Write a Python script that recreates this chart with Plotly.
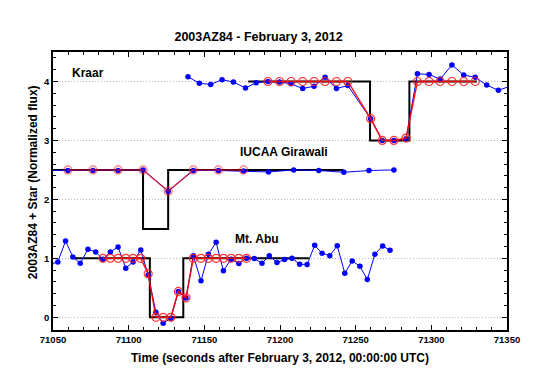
import plotly.graph_objects as go

# Kraar
kraar_t = [71139.2, 71146.7, 71154.2, 71161.7, 71169.2, 71177.2, 71184.3, 71192.0,
           71199.7, 71207.3, 71215.0, 71222.5, 71229.8, 71237.3, 71244.8, 71259.9,
           71267.6, 71275.3, 71283.3, 71290.8, 71298.5, 71305.8, 71313.6, 71321.4,
           71329.0, 71336.6, 71344.3, 71352.0]
kraar_flux = [4.08, 3.97, 3.95, 4.03, 3.99, 3.89, 3.98, 4.00,
              3.99, 3.96, 3.88, 3.92, 4.07, 3.88, 3.93, 3.37,
              3.00, 3.00, 3.03, 4.13, 4.12, 4.04, 4.28, 4.11,
              4.07, 3.94, 3.85, 3.92]
kraar_model_t = [71192.0, 71199.7, 71207.3, 71215.0, 71222.5, 71229.8, 71237.3, 71244.8,
                 71259.9, 71267.6, 71275.3, 71283.3, 71290.8, 71298.5, 71305.8, 71313.6,
                 71321.4, 71329.0]
kraar_model = [4.0, 4.0, 4.0, 4.0, 4.0, 4.0, 4.0, 4.0,
               3.37, 3.0, 3.0, 3.04, 4.0, 4.0, 4.0, 4.0,
               4.0, 4.0]
kraar_step_t = [71179.0, 71259.5, 71259.5, 71285.5, 71285.5, 71330.0]
kraar_step = [4, 4, 3, 3, 4, 4]

# IUCAA Girawali
iucaa_t = [71043.2, 71059.8, 71076.4, 71093.0, 71109.5, 71126.1, 71142.7, 71159.3,
           71175.9, 71192.4, 71209.0, 71225.6, 71242.2, 71258.8, 71275.3]
iucaa_flux = [2.49, 2.49, 2.49, 2.49, 2.50, 2.14, 2.49, 2.49,
              2.48, 2.465, 2.50, 2.49, 2.46, 2.49, 2.50]
iucaa_model_t = [71059.8, 71076.4, 71093.0, 71109.5, 71126.1, 71142.7, 71159.3, 71175.9]
iucaa_model = [2.5, 2.5, 2.5, 2.5, 2.14, 2.5, 2.5, 2.5]
iucaa_step_t = [71040.0, 71109.5, 71109.5, 71126.1, 71126.1, 71242.0]
iucaa_step = [2.5, 2.5, 1.5, 1.5, 2.5, 2.5]

# Mt. Abu
abu_t = [71048.3, 71053.2, 71058.3, 71063.1, 71068.0, 71073.1, 71078.2, 71083.0,
         71087.9, 71093.0, 71098.1, 71102.9, 71108.0, 71112.9, 71118.0, 71122.8,
         71127.9, 71132.8, 71137.9, 71142.7, 71147.8, 71152.7, 71157.8, 71162.6,
         71167.7, 71172.8, 71177.9, 71183.0, 71188.1, 71192.9, 71198.0, 71203.0,
         71207.9, 71213.0, 71217.9, 71222.9, 71227.8, 71232.9, 71237.8, 71242.8,
         71247.7, 71252.8, 71257.7, 71262.7, 71267.8, 71272.7]
abu_flux = [0.90, 0.94, 1.295, 1.024, 0.918, 1.154, 1.109, 0.985,
            1.109, 1.193, 0.834, 0.940, 1.143, 0.716, 0.084, -0.101,
            -0.017, 0.439, 0.327, 1.046, 0.619, 1.07, 1.272, 0.788,
            0.985, 0.911, 1.002, 0.996, 0.918, 1.046, 0.928, 0.979,
            1.002, 0.901, 0.895, 1.222, 1.087, 1.046, 1.215, 0.749,
            0.957, 0.867, 0.64, 1.07, 1.21, 1.137]
abu_model_t = [71083.0, 71087.9, 71093.0, 71098.1, 71102.9, 71108.0, 71112.9, 71118.0,
               71122.8, 71127.9, 71132.8, 71137.9, 71142.7, 71147.8, 71152.7, 71157.8,
               71162.6, 71167.7, 71172.8, 71177.9]
abu_model = [1, 1, 1, 1, 1, 1, 0.74, 0,
             0, 0, 0.44, 0.33, 1, 1, 1, 1,
             1, 1, 1, 1]
abu_step_t = [71063.1, 71114.0, 71114.0, 71136.1, 71136.1, 71219.0]
abu_step = [1, 1, 0, 0, 1, 1]

stations = [
    ("Kraar", kraar_t, kraar_flux, kraar_model_t, kraar_model, kraar_step_t, kraar_step),
    ("IUCAA Girawali", iucaa_t, iucaa_flux, iucaa_model_t, iucaa_model, iucaa_step_t, iucaa_step),
    ("Mt. Abu", abu_t, abu_flux, abu_model_t, abu_model, abu_step_t, abu_step),
]

FONT = "Liberation Sans, Arial, Helvetica, sans-serif"

fig = go.Figure()
for name, t, f, mt, m, st, s in stations:
    # square-wave occultation model
    fig.add_trace(go.Scatter(x=st, y=s, mode="lines",
                             line=dict(color="black", width=2), showlegend=False))
    # observed light curve
    fig.add_trace(go.Scatter(x=t, y=f, mode="lines+markers",
                             line=dict(color="#0000ff", width=1),
                             marker=dict(color="#0000ff", size=5.5), showlegend=False))
    # fitted model
    fig.add_trace(go.Scatter(x=mt, y=m, mode="lines+markers",
                             line=dict(color="#ff0000", width=1.5),
                             marker=dict(symbol="circle-open", color="#ff2020", size=8,
                                         line=dict(width=1.2)),
                             opacity=0.9 if name != "IUCAA Girawali" else 0.6,
                             showlegend=False))

# station labels
labels = [("Kraar", 71073.2, 4.15), ("IUCAA Girawali", 71202.4, 2.80), ("Mt. Abu", 71184.5, 1.33)]
for txt, lx, ly in labels:
    fig.add_annotation(x=lx, y=ly, xref="x", yref="y", text=txt, showarrow=False,
                       font=dict(family=FONT, size=12, color="black", weight="bold"))

fig.add_annotation(x=0.5, y=-0.1, xref="paper", yref="paper", xanchor="center", yanchor="middle",
                   text="Time (seconds after February 3, 2012, 00:00:00 UTC)", showarrow=False,
                   font=dict(family=FONT, size=12, color="black", weight="bold"))
fig.add_annotation(x=-0.044, y=0.532, xref="paper", yref="paper", textangle=-90,
                   xanchor="center", yanchor="middle",
                   text="2003AZ84 + Star (Normalized flux)", showarrow=False,
                   font=dict(family=FONT, size=12, color="black", weight="bold"))

axis_common = dict(showline=True, linecolor="black", linewidth=1.5, mirror="ticks",
                   ticks="inside", ticklen=5, tickwidth=1, tickcolor="black",
                   zeroline=False,
                   tickfont=dict(family=FONT, size=9.5, color="black", weight="bold"))

fig.update_xaxes(range=[71050, 71350], dtick=50, tick0=71050, showgrid=False, tickformat="d",
                 minor=dict(dtick=10, ticks="inside", ticklen=3, tickcolor="black"),
                 **axis_common)
fig.update_yaxes(range=[-0.215, 4.5], dtick=1, tick0=0, showgrid=True,
                 gridcolor="#b8b8b8", griddash="1px,2px", gridwidth=1,
                 minor=dict(dtick=0.2, tick0=0, ticks="inside", ticklen=3, tickcolor="black",
                            showgrid=False),
                 **axis_common)

# page body adds an 8 px offset, so margins are shifted to compensate
fig.update_layout(
    width=555, height=387,
    margin=dict(l=45, r=56, t=44, b=65),
    paper_bgcolor="white", plot_bgcolor="white",
    title=dict(text="2003AZ84 - February 3, 2012", x=0.4514, xref="container",
               y=0.925, yref="container", xanchor="center", yanchor="middle",
               font=dict(family=FONT, size=12.5, color="black", weight="bold")),
)

fig.write_html("out.html")
